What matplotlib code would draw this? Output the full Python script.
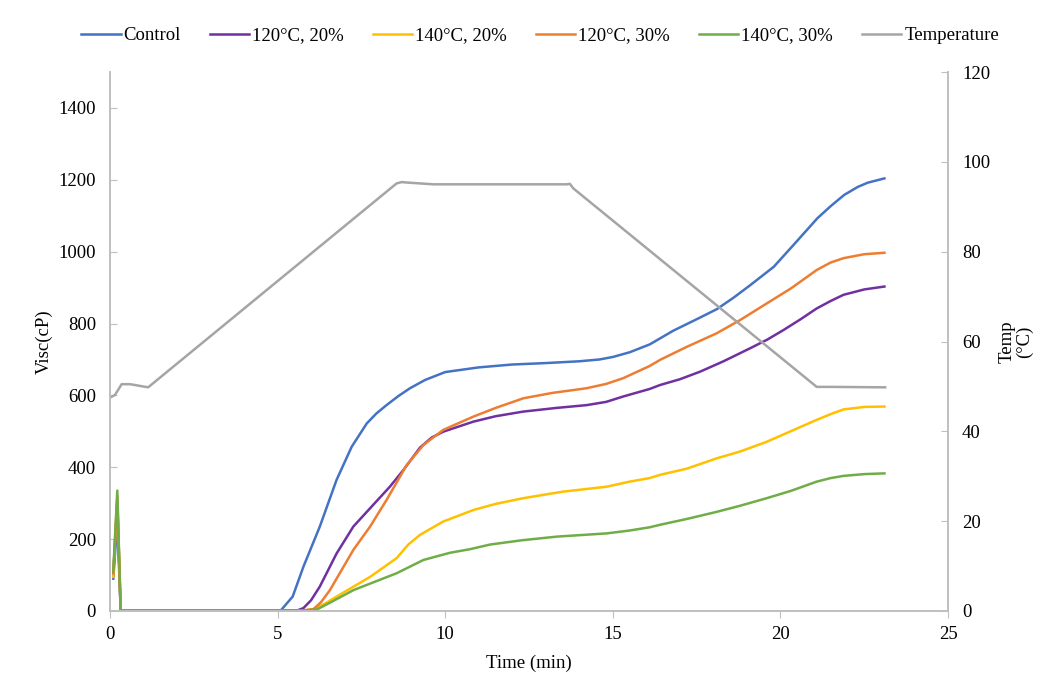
import matplotlib
matplotlib.use("Agg")
import matplotlib.pyplot as plt

plt.rcParams['font.family'] = ['Liberation Serif', 'DejaVu Serif']
plt.rcParams['font.size'] = 13.5

## viscosity readings (cP) against time (min)
t_control = [0.1, 0.22, 0.32, 5.1, 5.45, 5.77, 6.26, 6.76, 7.21, 7.66, 7.95, 8.25, 8.6, 8.95, 9.4, 10.0,
             11.0, 12.0, 13.0, 14.0, 14.6, 15.0, 15.5, 16.1, 16.8, 17.5, 18.1, 18.6, 19.1, 19.8, 20.4,
             21.1, 21.5, 21.9, 22.3, 22.6, 23.1]
v_control = [90, 250, 2, 2, 40, 123, 235, 365, 457, 522, 550, 573, 598, 620, 643, 665,
             678, 686, 690, 695, 700, 707, 720, 742, 780, 812, 840, 872, 907, 958, 1020,
             1093, 1127, 1158, 1180, 1192, 1204]

t_120_20 = [0.1, 0.22, 0.32, 5.6, 5.77, 6.0, 6.26, 6.76, 7.26, 7.76, 8.35, 8.75, 9.25, 9.6, 9.94, 10.84,
            11.5, 12.33, 13.3, 14.22, 14.8, 15.31, 16.1, 16.41, 17.0, 17.6, 18.3, 19.09, 19.6, 20.09,
            20.6, 21.08, 21.5, 21.88, 22.5, 23.1]
v_120_20 = [100, 300, 2, 2, 8, 30, 68, 160, 235, 286, 346, 392, 455, 483, 499, 527,
            542, 555, 565, 573, 582, 597, 618, 629, 645, 666, 695, 731, 755, 782,
            812, 842, 863, 880, 895, 903]

t_140_20 = [0.1, 0.22, 0.32, 5.8, 6.07, 6.4, 6.76, 7.76, 8.55, 8.9, 9.25, 9.94, 10.84, 11.5, 12.33, 13.5,
            14.82, 15.5, 16.1, 16.41, 17.2, 18.1, 18.8, 19.59, 20.3, 21.08, 21.5, 21.88, 22.5, 23.1]
v_140_20 = [95, 310, 2, 2, 5, 20, 40, 95, 147, 185, 212, 249, 281, 298, 314, 332,
            346, 360, 370, 379, 396, 425, 444, 471, 500, 532, 548, 561, 568, 569]

t_120_30 = [0.1, 0.22, 0.32, 5.8, 6.07, 6.3, 6.56, 7.26, 7.76, 8.25, 8.85, 9.35, 9.94, 10.84, 11.5,
            12.33, 13.2, 14.22, 14.8, 15.31, 16.1, 16.41, 17.2, 18.1, 18.8, 19.59, 20.3, 21.08, 21.5,
            21.88, 22.5, 23.1]
v_120_30 = [105, 320, 2, 2, 5, 25, 58, 170, 235, 309, 406, 462, 504, 541, 565,
            592, 607, 620, 632, 648, 682, 699, 735, 773, 810, 856, 897, 949, 970,
            982, 993, 997]

t_140_30 = [0.1, 0.22, 0.32, 5.9, 6.17, 6.6, 7.26, 8.0, 8.55, 9.35, 10.14, 10.74, 11.34, 12.3, 13.33,
            14.82, 15.5, 16.1, 16.41, 17.2, 18.1, 18.8, 19.59, 20.3, 21.08, 21.5, 21.88, 22.5, 23.1]
v_140_30 = [110, 335, 2, 2, 4, 25, 58, 85, 105, 142, 162, 172, 185, 197, 207,
            216, 224, 233, 240, 256, 276, 293, 314, 334, 360, 370, 376, 381, 383]

# temperature profile (deg C), secondary axis
t_temp = [0.05, 0.15, 0.35, 0.6, 1.14, 8.55, 8.7, 8.85, 9.65, 13.62, 13.72, 13.82, 21.08, 21.5, 23.12]
temp = [47.7, 48.1, 50.5, 50.5, 49.8, 95.2, 95.5, 95.4, 95.0, 95.0, 95.1, 94.1, 49.9, 49.9, 49.8]

labels = ["Control", "120°C, 20%", "140°C, 20%", "120°C, 30%", "140°C, 30%"]
colors = ["#4472C4", "#7030A0", "#FFC000", "#ED7D31", "#70AD47"]
series = [(t_control, v_control), (t_120_20, v_120_20), (t_140_20, v_140_20),
          (t_120_30, v_120_30), (t_140_30, v_140_30)]

axis_grey = "#BFBFBF"
lw = 1.8

fig = plt.figure(figsize=(10.57, 6.94), dpi=100)
ax = fig.add_axes([0.104, 0.1196, 0.793, 0.7766])
ax2 = ax.twinx()

handles = []
for (t, v), lab, c in zip(series, labels, colors):
    h, = ax.plot(t, v, color=c, lw=lw, label=lab, solid_joinstyle='round')
    handles.append(h)
h, = ax2.plot(t_temp, temp, color="#A5A5A5", lw=lw, label="Temperature", solid_joinstyle='round')
handles.append(h)

ax.set_xlim(0, 25)
ax.set_ylim(0, 1500)
ax2.set_ylim(0, 120)
ax.set_xticks(range(0, 26, 5))
ax.set_yticks(range(0, 1401, 200))
ax2.set_yticks(range(0, 121, 20))

for a in (ax, ax2):
    a.spines['top'].set_visible(False)
    for s in ('left', 'right', 'bottom'):
        a.spines[s].set_color(axis_grey)
        a.spines[s].set_linewidth(1.2)
ax.tick_params(axis='x', direction='out', length=5, color=axis_grey, pad=6)
ax.tick_params(axis='y', direction='in', length=5, color=axis_grey, pad=10)
ax2.tick_params(axis='y', direction='in', length=5, color=axis_grey, pad=10)

ax.set_xlabel("Time (min)", labelpad=8)
ax.set_ylabel("Visc(cP)", labelpad=4)
ax2.set_ylabel("Temp\n(°C)", rotation=90, labelpad=6, linespacing=1.0)

fig.legend(handles=handles, loc='upper center', bbox_to_anchor=(0.511, 0.985), ncol=6,
           frameon=False, handlelength=2.1, columnspacing=1.55, handletextpad=0.15)

fig.savefig("out.png", dpi=100)
